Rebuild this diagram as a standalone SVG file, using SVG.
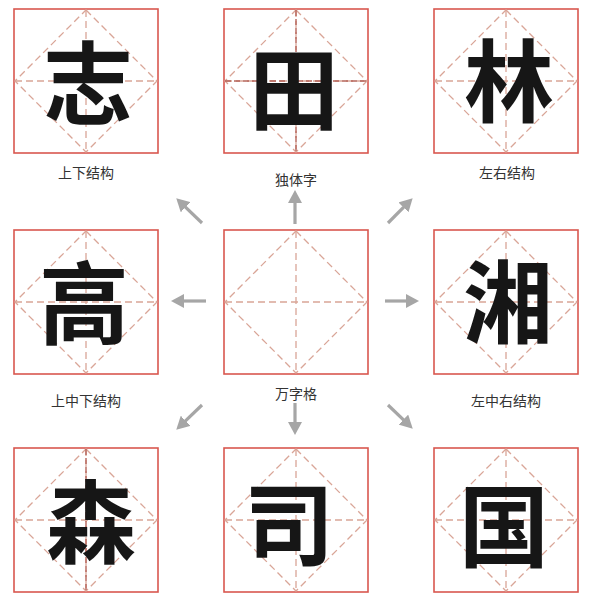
<svg xmlns="http://www.w3.org/2000/svg" xmlns:xlink="http://www.w3.org/1999/xlink" width="598" height="599" viewBox="0 0 598 599">
<style>
.box{fill:#ffffff;stroke:#d9574f;stroke-width:1.6}
.dash{fill:none;stroke:#d9a597;stroke-width:1.3;stroke-dasharray:7 4}
.dark{fill:none;stroke:#b5645a;stroke-width:1.4;stroke-dasharray:6 3}
.ch{font-family:"Noto Sans CJK SC","Noto Sans CJK JP",sans-serif;font-weight:700;font-size:90px;fill:#161616;text-anchor:middle;dominant-baseline:central}
.lbl{font-family:"Noto Sans CJK SC","Noto Sans CJK JP",sans-serif;font-size:14px;fill:#333333;text-anchor:middle;dominant-baseline:central}
.arr{stroke:#a6a6a6;stroke-width:3.2;fill:none;marker-end:url(#ah)}
</style>
<defs>
<marker id="ah" markerUnits="userSpaceOnUse" markerWidth="14" markerHeight="14" refX="6" refY="7" orient="auto">
<path d="M0,0 L13,7 L0,14 z" fill="#a6a6a6"/>
</marker>
<g id="grid">
<rect class="box" x="0" y="0" width="144" height="144"/>
<line class="dash" x1="72" y1="1" x2="72" y2="143"/>
<line class="dash" x1="1" y1="72" x2="143" y2="72"/>
<polygon class="dash" points="72,1 143,72 72,143 1,72"/>
</g>
</defs>
<rect width="598" height="598" fill="#ffffff"/>
<g id="connectors">
<line class="arr" x1="202" y1="223" x2="181.3" y2="203.1"/>
<line class="arr" x1="295" y1="224" x2="295" y2="197"/>
<line class="arr" x1="388" y1="223" x2="407.7" y2="203.2"/>
<line class="arr" x1="206" y1="301" x2="178" y2="301"/>
<line class="arr" x1="385" y1="301" x2="412" y2="301"/>
<line class="arr" x1="202" y1="405" x2="181.3" y2="424.9"/>
<line class="arr" x1="295" y1="403" x2="295" y2="428"/>
<line class="arr" x1="388" y1="405" x2="407.7" y2="423.8"/>
</g>
<g id="zhi">
<use xlink:href="#grid" x="14" y="9"/>
<text class="ch" x="88" y="78">志</text>
<text class="lbl" x="86" y="172">上下结构</text>
</g>
<g id="tian">
<use xlink:href="#grid" x="224" y="9"/>
<line class="dark" x1="296" y1="10" x2="296" y2="152"/>
<line class="dark" x1="225" y1="81" x2="367" y2="81"/>
<text class="ch" x="294" y="84">田</text>
<text class="lbl" x="296" y="179">独体字</text>
</g>
<g id="lin">
<use xlink:href="#grid" x="434" y="9"/>
<text class="ch" x="509" y="76">林</text>
<text class="lbl" x="507" y="172">左右结构</text>
</g>
<g id="gao">
<use xlink:href="#grid" x="14" y="230"/>
<text class="ch" x="84" y="298">高</text>
<text class="lbl" x="86" y="400">上中下结构</text>
</g>
<g id="wanzige">
<use xlink:href="#grid" x="224" y="230"/>
<text class="lbl" x="296" y="393">万字格</text>
</g>
<g id="xiang">
<use xlink:href="#grid" x="434" y="230"/>
<text class="ch" x="508" y="297">湘</text>
<text class="lbl" x="506" y="400">左中右结构</text>
</g>
<g id="sen">
<use xlink:href="#grid" x="14" y="448"/>
<line class="dark" x1="86" y1="449" x2="86" y2="591"/>
<text class="ch" x="91" y="517">森</text>
</g>
<g id="si">
<use xlink:href="#grid" x="224" y="448"/>
<text class="ch" x="289" y="519">司</text>
</g>
<g id="guo">
<use xlink:href="#grid" x="434" y="448"/>
<text class="ch" x="504" y="521">国</text>
</g>
</svg>
